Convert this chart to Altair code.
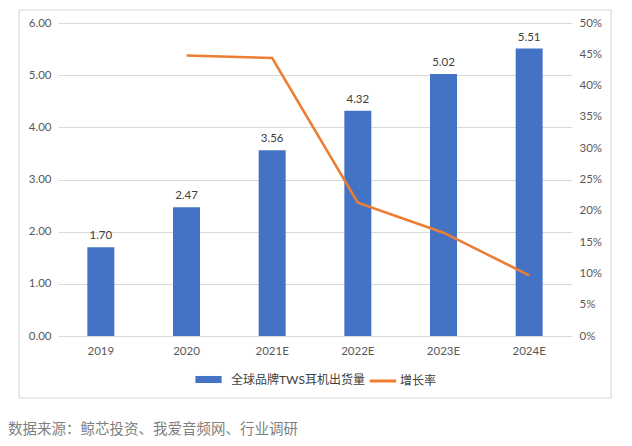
import altair as alt
import pandas as pd

# TWS earphone shipments (billion units) and growth rate
years = ['2019', '2020', '2021E', '2022E', '2023E', '2024E']
shipments = [1.70, 2.47, 3.56, 4.32, 5.02, 5.51]
growth = [None, 0.448, 0.444, 0.213, 0.165, 0.097]

bar_name = '全球品牌TWS耳机出货量'
line_name = '增长率'
source_text = '数据来源：鲸芯投资、我爱音频网、行业调研'

df = pd.DataFrame({'year': years, 'ship': shipments, 'growth': growth})
df['bar_s'] = bar_name
df['line_s'] = line_name

font = 'Lato, Noto Sans CJK SC, sans-serif'
grey = '#595959'

x = alt.X('year:N', sort=years, title=None,
          scale=alt.Scale(paddingInner=0.685, paddingOuter=0.3425),
          axis=alt.Axis(labelAngle=0, ticks=False, domain=False, labelPadding=9,
                        labelColor=grey, labelFont=font, labelFontSize=11.5))

y_left = alt.Y('ship:Q', title=None,
               scale=alt.Scale(domain=[0, 6], nice=False),
               axis=alt.Axis(values=[0, 1, 2, 3, 4, 5, 6], format='.2f', ticks=False,
                             domain=False, labelPadding=7, gridColor='#d9d9d9',
                             labelColor=grey, labelFont=font, labelFontSize=11.5))

bars = alt.Chart(df).mark_bar(color='#4472C4').encode(
    x=x,
    y=y_left,
    fill=alt.Fill('bar_s:N', title=None,
                  scale=alt.Scale(domain=[bar_name], range=['#4472C4']),
                  legend=alt.Legend(orient='none', legendX=143, legendY=349,
                                    symbolType='M-1.85,-0.5H1.85V0.5H-1.85Z',
                                    symbolSize=200, symbolStrokeWidth=0,
                                    labelOffset=15)),
)

labels = alt.Chart(df).mark_text(baseline='bottom', dy=-6, color='#404040',
                                 font=font, fontSize=11.5).encode(
    x=x,
    y=y_left,
    text=alt.Text('ship:Q', format='.2f'),
)

left = alt.layer(bars, labels)

line = alt.Chart(df).transform_filter('isValid(datum.growth)').mark_line(
    strokeWidth=2.5, color='#ED7D31').encode(
    x=x,
    y=alt.Y('growth:Q', title=None,
            scale=alt.Scale(domain=[0, 0.5], nice=False),
            axis=alt.Axis(orient='right', values=[i * 0.05 for i in range(11)],
                          format='.0%', grid=False, ticks=False, domain=False,
                          labelPadding=7, labelColor=grey, labelFont=font,
                          labelFontSize=11.5)),
    stroke=alt.Stroke('line_s:N', title=None,
                      scale=alt.Scale(domain=[line_name], range=['#ED7D31']),
                      legend=alt.Legend(orient='none', legendX=310, legendY=343,
                                        symbolType='stroke', symbolSize=700,
                                        symbolStrokeWidth=3, labelOffset=2)),
)

# light frame round the plot and legend
frame = alt.Chart(pd.DataFrame({'a': [0]})).mark_rect(
    filled=False, stroke='#d9d9d9', strokeWidth=1.2).encode(
    x=alt.value(-39), x2=alt.value(553), y=alt.value(-13), y2=alt.value(375))

chart = alt.layer(left, line, frame).resolve_scale(
    y='independent', fill='independent', stroke='independent'
).properties(
    width=514, height=313,
    autosize=alt.AutoSizeParams(type='none'),
    padding={'left': 50, 'top': 15, 'right': 44, 'bottom': 102},
    title=alt.TitleParams(source_text, orient='bottom', anchor='start', frame='group',
                          dx=-50, offset=24, font='Noto Sans CJK SC', fontSize=14.5,
                          fontWeight='normal', color='#7f7f7f'),
).configure_view(
    stroke=None
).configure_legend(
    labelFont=font, labelFontSize=12, labelColor='#404040', symbolOpacity=1
)

chart.save('out.html', embed_options={'renderer': 'svg', 'actions': False})
